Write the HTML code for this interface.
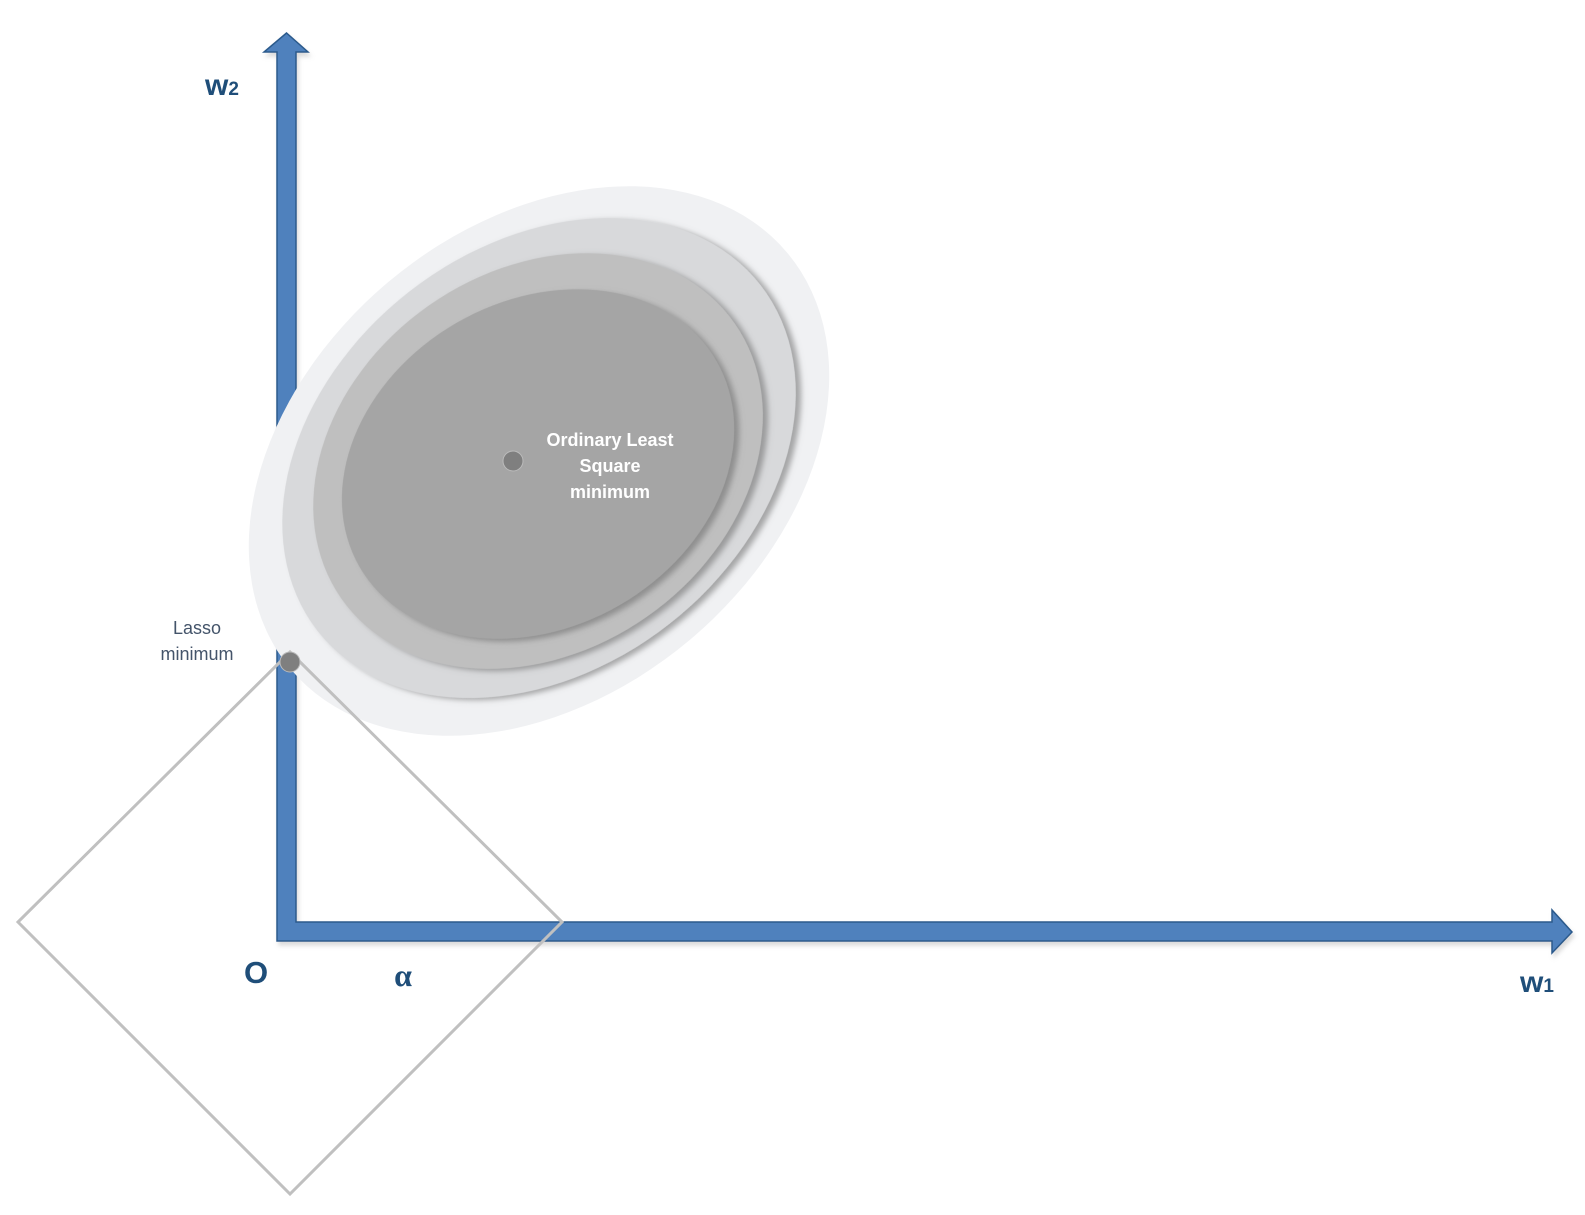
<!DOCTYPE html>
<html><head><meta charset="utf-8"><style>
html,body{margin:0;padding:0;background:#fff;}
svg{display:block;}
text{font-family:"Liberation Sans",sans-serif;}
</style></head><body>
<svg width="1585" height="1215" viewBox="0 0 1585 1215">
<defs>
<filter id="sh" x="-20%" y="-20%" width="140%" height="140%">
<feDropShadow dx="3" dy="5" stdDeviation="3" flood-color="#666" flood-opacity="0.55"/>
</filter>
<filter id="ash" x="-5%" y="-5%" width="110%" height="110%">
<feDropShadow dx="2" dy="4" stdDeviation="2" flood-color="#999" flood-opacity="0.35"/>
</filter>
</defs>
<g filter="url(#ash)">
<path d="M277 941 L277 52 L264 52 L286.5 33 L308 52 L296 52 L296 922 L1552 922 L1552 910 L1572 932 L1552 953 L1552 941 Z" fill="#4f81bd" stroke="#2c5a8c" stroke-width="1.5"/>
</g>
<text x="205" y="95" font-size="30" font-weight="bold" fill="#1f4e79">w<tspan font-size="19">2</tspan></text>
<text x="1520" y="992" font-size="30" font-weight="bold" fill="#1f4e79">w<tspan font-size="19">1</tspan></text>
<text x="256" y="983" font-size="31" font-weight="bold" fill="#1f4e79" text-anchor="middle">O</text>
<text x="403" y="986" font-size="32" font-weight="bold" fill="#1f4e79" text-anchor="middle" style="font-family:'Liberation Serif',serif">α</text>
<g>
<ellipse cx="539" cy="461" rx="324" ry="234" transform="rotate(-40 539 461)" fill="#f0f1f3"/>
<ellipse cx="539" cy="458" rx="281" ry="211" transform="rotate(-38 539 458)" fill="#d8d9db" filter="url(#sh)"/>
<ellipse cx="538" cy="461" rx="240" ry="190" transform="rotate(-35 538 461)" fill="#bfbfbf" filter="url(#sh)"/>
<ellipse cx="538" cy="464" rx="206" ry="163" transform="rotate(-30 538 464)" fill="#a5a5a5" filter="url(#sh)"/>
</g>
<polygon points="290,652 562,922 290,1194 18,922" fill="none" stroke="#c0c0c0" stroke-width="3"/>
<circle cx="513" cy="461" r="10" fill="#7f7f7f" stroke="#bbb" stroke-width="1"/>
<circle cx="290" cy="662" r="10" fill="#7f7f7f" stroke="#bbb" stroke-width="1"/>
<g font-size="18" font-weight="bold" fill="#fff" text-anchor="middle">
<text x="610" y="446">Ordinary Least</text>
<text x="610" y="472">Square</text>
<text x="610" y="498">minimum</text>
</g>
<g font-size="18" fill="#44546a" text-anchor="middle">
<text x="197" y="634">Lasso</text>
<text x="197" y="660">minimum</text>
</g>
</svg>
</body></html>
